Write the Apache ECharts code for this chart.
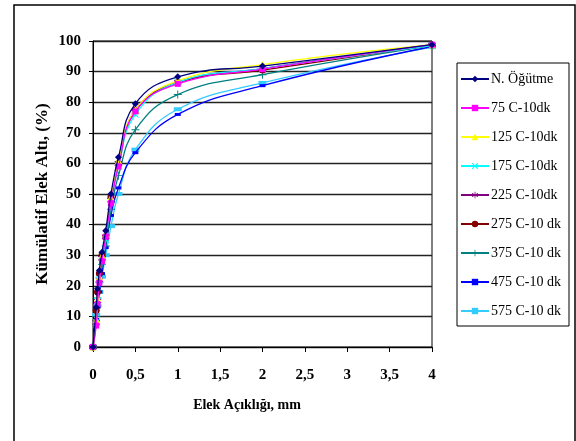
<!DOCTYPE html>
<html>
<head>
<meta charset="utf-8">
<script src="https://cdn.jsdelivr.net/npm/echarts@6/dist/echarts.min.js"></script>
<style>
  html, body { margin: 0; padding: 0; background: #fff; }
  #chart { width: 576px; height: 441px; }
</style>
</head>
<body>
<div id="chart"></div>
<script>
// Sieve openings (mm)
const sieveSizes = [0, 0.038, 0.053, 0.075, 0.106, 0.15, 0.212, 0.3, 0.5, 1, 2, 4];

// Cumulative passing (%) for each grinding condition
const nOgutme = [0, 13, 19, 25, 31, 38, 50, 62, 79.5, 88.3, 91.8, 98.8];
const c75     = [0, 7, 14, 21, 28, 36, 47, 59, 77, 86, 90.8, 98.8];
const c125    = [0, 9, 16, 23, 30, 37, 49, 61, 77.5, 87, 92.3, 98.8];
const c175    = [0, 8, 15, 22, 28, 35, 47, 59, 76, 86.5, 91, 98.5];
const c225    = [0, 8, 15, 22, 29, 36, 48, 60, 77, 86.5, 91, 98.7];
const c275    = [0, 12, 18, 24, 30, 36, 49, 60, 77.4, 86.4, 90.5, 98.7];
const c375    = [0, 10, 16, 21, 27, 33, 45, 56, 71, 82.5, 89, 98.5];
const c475    = [0, 9, 13, 18, 24, 32.5, 43, 52, 63.5, 76, 85.4, 98.2];
const c575    = [0, 10.5, 13.5, 18, 23, 30, 39.5, 50, 64.5, 77.7, 86.3, 98];

const seriesNames = ['N. Öğütme', '75 C-10dk', '125 C-10dk', '175 C-10dk', '225 C-10dk',
                     '275 C-10 dk', '375 C-10 dk', '475 C-10 dk', '575 C-10 dk'];
const seriesValues = [nOgutme, c75, c125, c175, c225, c275, c375, c475, c575];

const xTicks = ['0', '0,5', '1', '1,5', '2', '2,5', '3', '3,5', '4'];

// marker shapes
const styles = [
  { color: '#000080', symbol: 'diamond', size: 7 },
  { color: '#FF00FF', symbol: 'rect', size: 6 },
  { color: '#FFFF00', symbol: 'triangle', size: 7 },
  { color: '#00FFFF', symbol: 'path://M1,0L5,4L9,0L10,1L6,5L10,9L9,10L5,6L1,10L0,9L4,5L0,1Z', size: 7 },
  { color: '#800080', symbol: 'path://M4.4,0H5.6V4L9,2L9.6,3L6.2,5L9.6,7L9,8L5.6,6V10H4.4V6L1,8L0.4,7L3.8,5L0.4,3L1,2L4.4,4Z', size: 8 },
  { color: '#800000', symbol: 'circle', size: 7 },
  { color: '#008080', symbol: 'path://M4.4,0H5.6V4.4H10V5.6H5.6V10H4.4V5.6H0V4.4H4.4Z', size: 8 },
  { color: '#0000FF', symbol: 'path://M0,0H10V5H0Z', size: [6, 3] },
  { color: '#33CCFF', symbol: 'path://M0,0H10V5H0Z', size: [8, 4] }
];

const series = seriesNames.map((name, i) => ({
  name: name,
  type: 'line',
  smooth: 0.45,
  data: sieveSizes.map((x, j) => [x, seriesValues[i][j]]),
  symbol: styles[i].symbol,
  symbolSize: styles[i].size,
  showSymbol: true,
  itemStyle: { color: styles[i].color },
  lineStyle: { color: styles[i].color, width: 1.3 },
  emphasis: { disabled: true },
  z: 2 + (8 - i)
}));

const chart = echarts.init(document.getElementById('chart'), null, { renderer: 'canvas' });
const serif = '"Liberation Serif", "Times New Roman", serif';

chart.setOption({
  animation: false,
  backgroundColor: '#fff',
  grid: { left: 93, right: 144, top: 41, bottom: 94, show: true, borderColor: '#000', borderWidth: 1 },
  xAxis: {
    type: 'value', min: 0, max: 4, interval: 0.5,
    axisLine: { lineStyle: { color: '#000', width: 1 } },
    axisTick: { show: true, length: 5, lineStyle: { color: '#000' } },
    splitLine: { show: false },
    axisLabel: {
      color: '#000', fontFamily: serif, fontWeight: 'bold', fontSize: 15, margin: 21,
      formatter: v => xTicks[Math.round(v / 0.5)]
    }
  },
  yAxis: {
    type: 'value', min: 0, max: 100, interval: 10,
    axisLine: { show: true, lineStyle: { color: '#000', width: 1 } },
    axisTick: { show: true, length: 4, lineStyle: { color: '#000' } },
    splitLine: { show: true, lineStyle: { color: '#222', width: 1.3 } },
    axisLabel: { color: '#000', fontFamily: serif, fontWeight: 'bold', fontSize: 15, margin: 12 }
  },
  legend: {
    orient: 'vertical', left: 457, top: 63,
    padding: [9, 8, 8, 3],
    itemWidth: 28, itemHeight: 8, itemGap: 15,
    borderColor: '#000', borderWidth: 1, backgroundColor: '#fff',
    textStyle: { color: '#000', fontFamily: serif, fontSize: 14, lineHeight: 14, padding: [0, 0, 0, -3] },
    data: seriesNames
  },
  graphic: [
    { type: 'rect', shape: { x: 14, y: 5, width: 561, height: 445 },
      style: { fill: 'none', stroke: '#000', lineWidth: 1.5 }, silent: true, z: -1 },
    { type: 'text', x: 43, y: 194, rotation: Math.PI / 2,
      style: { text: 'Kümülatif Elek Altı, (%)', font: 'bold 17px ' + serif, fill: '#000',
               textAlign: 'center', textVerticalAlign: 'middle' } },
    { type: 'text', x: 247, y: 405,
      style: { text: 'Elek Açıklığı, mm', font: 'bold 14px ' + serif, fill: '#000',
               textAlign: 'center', textVerticalAlign: 'middle' } }
  ],
  series: series
});
</script>
</body>
</html>
